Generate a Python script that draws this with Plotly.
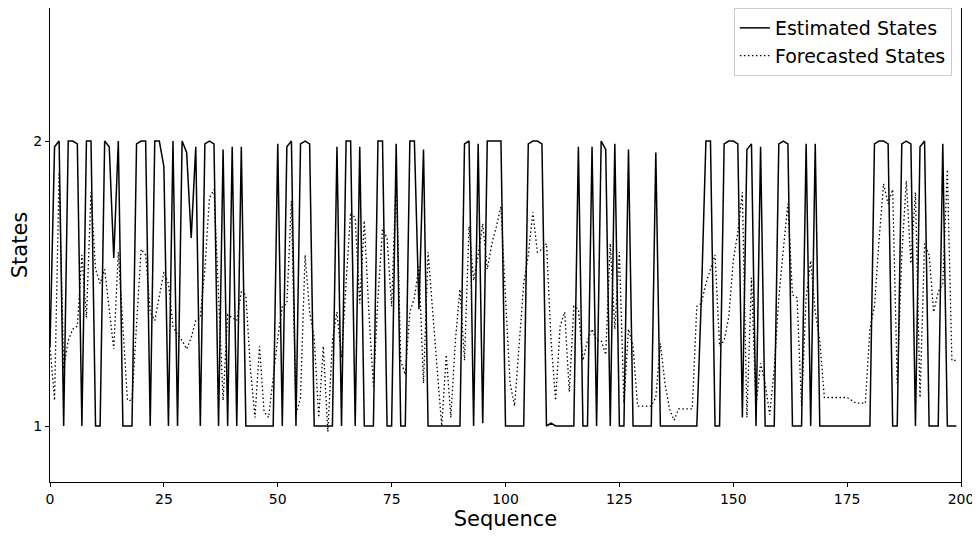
import plotly.graph_objects as go

sequence = list(range(200))

estimated_states = [
    1.28, 1.98, 2.00, 1.00, 2.00, 2.00, 1.99, 1.00, 2.00, 2.00,
    1.00, 1.00, 2.00, 1.98, 1.59, 2.00, 1.00, 1.00, 1.00, 1.99,
    2.00, 2.00, 1.00, 2.00, 2.00, 1.91, 1.00, 2.00, 1.00, 2.00,
    1.96, 1.66, 1.98, 1.00, 1.99, 2.00, 1.99, 1.00, 1.97, 1.00,
    1.98, 1.00, 1.98, 1.00, 1.00, 1.00, 1.00, 1.00, 1.00, 1.00,
    1.99, 1.00, 1.98, 2.00, 1.00, 1.99, 2.00, 1.99, 1.00, 1.00,
    1.00, 1.00, 1.00, 1.98, 1.00, 2.00, 2.00, 1.00, 1.98, 1.00,
    1.00, 1.00, 2.00, 2.00, 1.00, 1.00, 1.99, 1.00, 1.00, 2.00,
    2.00, 1.41, 1.97, 1.00, 1.00, 1.00, 1.00, 1.00, 1.00, 1.00,
    1.00, 1.99, 2.00, 1.00, 1.99, 1.01, 2.00, 2.00, 2.00, 2.00,
    1.00, 1.00, 1.00, 1.00, 1.00, 1.99, 2.00, 2.00, 1.99, 1.00,
    1.01, 1.00, 1.00, 1.00, 1.00, 1.00, 1.98, 1.00, 1.00, 1.98,
    1.00, 2.00, 1.97, 1.00, 1.99, 1.00, 1.00, 1.97, 1.00, 1.00,
    1.00, 1.00, 1.00, 1.96, 1.00, 1.00, 1.00, 1.00, 1.00, 1.00,
    1.00, 1.00, 1.00, 1.45, 2.00, 2.00, 1.00, 1.00, 1.99, 2.00,
    2.00, 1.99, 1.03, 1.97, 1.99, 1.00, 1.98, 1.00, 1.00, 1.00,
    1.99, 2.00, 1.99, 1.00, 1.00, 1.00, 1.99, 1.00, 1.99, 1.00,
    1.00, 1.00, 1.00, 1.00, 1.00, 1.00, 1.00, 1.00, 1.00, 1.00,
    1.00, 1.99, 2.00, 2.00, 1.99, 1.00, 1.00, 1.99, 2.00, 1.99,
    1.00, 1.98, 2.00, 1.00, 1.00, 1.00, 1.99, 1.00, 1.00, 1.00,
]

forecasted_states = [
    1.28, 1.09, 1.89, 1.20, 1.30, 1.34, 1.35, 1.60, 1.38, 1.82,
    1.55, 1.50, 1.55, 1.40, 1.27, 1.61, 1.35, 1.09, 1.09, 1.35,
    1.62, 1.60, 1.40, 1.37, 1.45, 1.54, 1.50, 1.35, 1.32, 1.30,
    1.27, 1.31, 1.37, 1.38, 1.55, 1.80, 1.83, 1.45, 1.09, 1.39,
    1.38, 1.37, 1.47, 1.46, 1.20, 1.03, 1.28, 1.05, 1.03, 1.18,
    1.31, 1.42, 1.43, 1.79, 1.04, 1.10, 1.60, 1.40, 1.31, 1.03,
    1.28, 0.98, 1.30, 1.40, 1.24, 1.50, 1.75, 1.73, 1.43, 1.72,
    1.40, 1.14, 1.45, 1.69, 1.66, 1.42, 1.88, 1.23, 1.18, 1.40,
    1.45, 1.56, 1.15, 1.61, 1.42, 1.20, 1.00, 1.25, 1.03, 1.30,
    1.48, 1.23, 1.70, 1.51, 1.60, 1.71, 1.55, 1.64, 1.70, 1.77,
    1.45, 1.15, 1.07, 1.30, 1.50, 1.60, 1.75, 1.61, 1.62, 1.64,
    1.30, 1.09, 1.35, 1.40, 1.12, 1.42, 1.41, 1.23, 1.30, 1.34,
    1.30, 1.30, 1.25, 1.64, 1.34, 1.61, 1.08, 1.34, 1.28, 1.07,
    1.07, 1.07, 1.07, 1.10, 1.29, 1.15, 1.06, 1.02, 1.06, 1.06,
    1.06, 1.06, 1.42, 1.43, 1.50, 1.55, 1.60, 1.28, 1.30, 1.38,
    1.58, 1.68, 1.82, 1.03, 1.52, 1.07, 1.22, 1.15, 1.04, 1.20,
    1.45, 1.62, 1.78, 1.46, 1.45, 1.07, 1.45, 1.58, 1.40, 1.30,
    1.10, 1.10, 1.10, 1.10, 1.10, 1.10, 1.09, 1.08, 1.08, 1.08,
    1.34, 1.42, 1.65, 1.85, 1.78, 1.83, 1.15, 1.60, 1.86, 1.57,
    1.82, 1.10, 1.64, 1.60, 1.40, 1.47, 1.50, 1.90, 1.23, 1.23,
]

x_ticks = [0, 25, 50, 75, 100, 125, 150, 175, 200]
y_ticks = [1, 2]

FONT = "DejaVu Sans, Liberation Sans, sans-serif"

fig = go.Figure()
fig.add_trace(go.Scatter(
    x=sequence, y=estimated_states, mode="lines", name="Estimated States",
    line=dict(color="black", width=1.5),
))
fig.add_trace(go.Scatter(
    x=sequence, y=forecasted_states, mode="lines", name="Forecasted States",
    line=dict(color="black", width=1.3, dash="1.5px,2.5px"),
))

# the page body adds an 8px offset, so the figure is sized/margined to compensate
fig.update_layout(
    width=972, height=530,
    margin=dict(l=42, r=19, t=0, b=56, autoexpand=False),
    paper_bgcolor="white", plot_bgcolor="white",
    font=dict(family=FONT, color="black"),
    showlegend=True,
    legend=dict(
        x=0.99, y=1.0, xanchor="right", yanchor="top",
        bgcolor="rgba(255,255,255,0.8)", bordercolor="#cccccc", borderwidth=1,
        font=dict(size=19, family=FONT),
        tracegroupgap=2,
    ),
    xaxis=dict(
        range=[0, 200], tickvals=x_ticks, ticktext=[str(v) for v in x_ticks],
        showgrid=False, zeroline=False,
        showline=True, linecolor="black", linewidth=1.2, mirror=False,
        ticks="outside", ticklen=4, tickcolor="black", tickwidth=1,
        tickfont=dict(size=14, family=FONT),
        title=dict(text="Sequence", font=dict(size=21, family=FONT), standoff=4),
        automargin=False,
    ),
    yaxis=dict(
        range=[0.8035, 2.4667], tickvals=y_ticks, ticktext=[str(v) for v in y_ticks],
        showgrid=False, zeroline=False,
        showline=True, linecolor="black", linewidth=1.2, mirror=True,
        ticks="outside", ticklen=4, tickcolor="black", tickwidth=1,
        tickfont=dict(size=14, family=FONT),
        title=dict(text="States", font=dict(size=21, family=FONT), standoff=6),
        automargin=False,
    ),
)

fig.write_html("out.html")
